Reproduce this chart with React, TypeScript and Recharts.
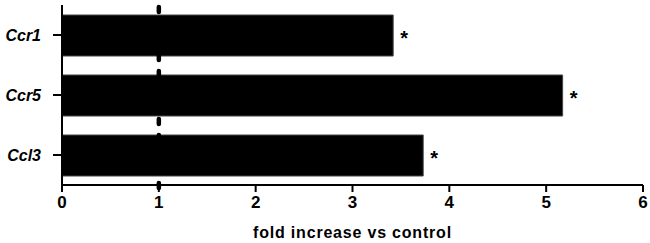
import { Bar, BarChart, LabelList, ReferenceLine, XAxis, YAxis } from "recharts";

const genes = ["Ccr1", "Ccr5", "Ccl3"];
const foldIncrease = [3.42, 5.17, 3.73];
const significance = ["*", "*", "*"];
const xTicks = [0, 1, 2, 3, 4, 5, 6];
const baseline = 1;
const xTitle = "fold increase vs control";

const data = genes.map((g, i) => ({ gene: g, fold: foldIncrease[i], sig: significance[i] }));

const font = "Arial, 'Liberation Sans', Helvetica, sans-serif";

// dashed control line at x=1, drawn a little past the axis like the original
function DashedControl(props: any) {
  const top = Math.min(props.y1, props.y2);
  const bottom = Math.max(props.y1, props.y2);
  return (
    <line
      x1={props.x1}
      x2={props.x2}
      y1={top + 2}
      y2={bottom + 5}
      stroke="#000"
      strokeWidth={4.5}
      strokeLinecap="round"
      strokeDasharray="5 43 5 11"
    />
  );
}

function Star(props: any) {
  const { x, y, width, height, value } = props;
  return (
    <text x={x + width + 7} y={y + height / 2 + 9} fontFamily={font} fontWeight="bold" fontSize={20} fill="#000">
      {value}
    </text>
  );
}

function AxisTitle(props: any) {
  const vb = props.viewBox || {};
  return (
    <text
      x={vb.x + vb.width / 2}
      y={vb.y + 53}
      textAnchor="middle"
      fontFamily={font}
      fontWeight="bold"
      fontSize={16}
      letterSpacing={0.8}
      fill="#000"
    >
      {xTitle}
    </text>
  );
}

export default function App() {
  return (
    <div style={{ position: "absolute", left: 0, top: 0, background: "#fff" }}>
      <BarChart
        width={650}
        height={243}
        data={data}
        layout="vertical"
        margin={{ top: 5, right: 7, bottom: 0, left: 0 }}
      >
        <XAxis
          type="number"
          domain={[0, 6]}
          ticks={xTicks}
          interval={0}
          tickSize={7}
          tickMargin={4}
          height={58}
          axisLine={{ stroke: "#000", strokeWidth: 2 }}
          tickLine={{ stroke: "#000", strokeWidth: 2 }}
          tick={{ fill: "#000", fontSize: 17, fontWeight: "bold", fontFamily: font }}
          label={<AxisTitle />}
        />
        <YAxis
          type="category"
          dataKey="gene"
          width={62}
          tickSize={9}
          tickMargin={12}
          axisLine={{ stroke: "#000", strokeWidth: 2 }}
          tickLine={{ stroke: "#000", strokeWidth: 2 }}
          tick={{ fill: "#000", fontSize: 16, fontWeight: "bold", fontStyle: "italic", fontFamily: font }}
        />
        <ReferenceLine x={baseline} shape={DashedControl} ifOverflow="visible" />
        <Bar dataKey="fold" fill="#000" stroke="#444" strokeWidth={1} barSize={41} isAnimationActive={false}>
          <LabelList dataKey="sig" content={Star} />
        </Bar>
      </BarChart>
    </div>
  );
}
